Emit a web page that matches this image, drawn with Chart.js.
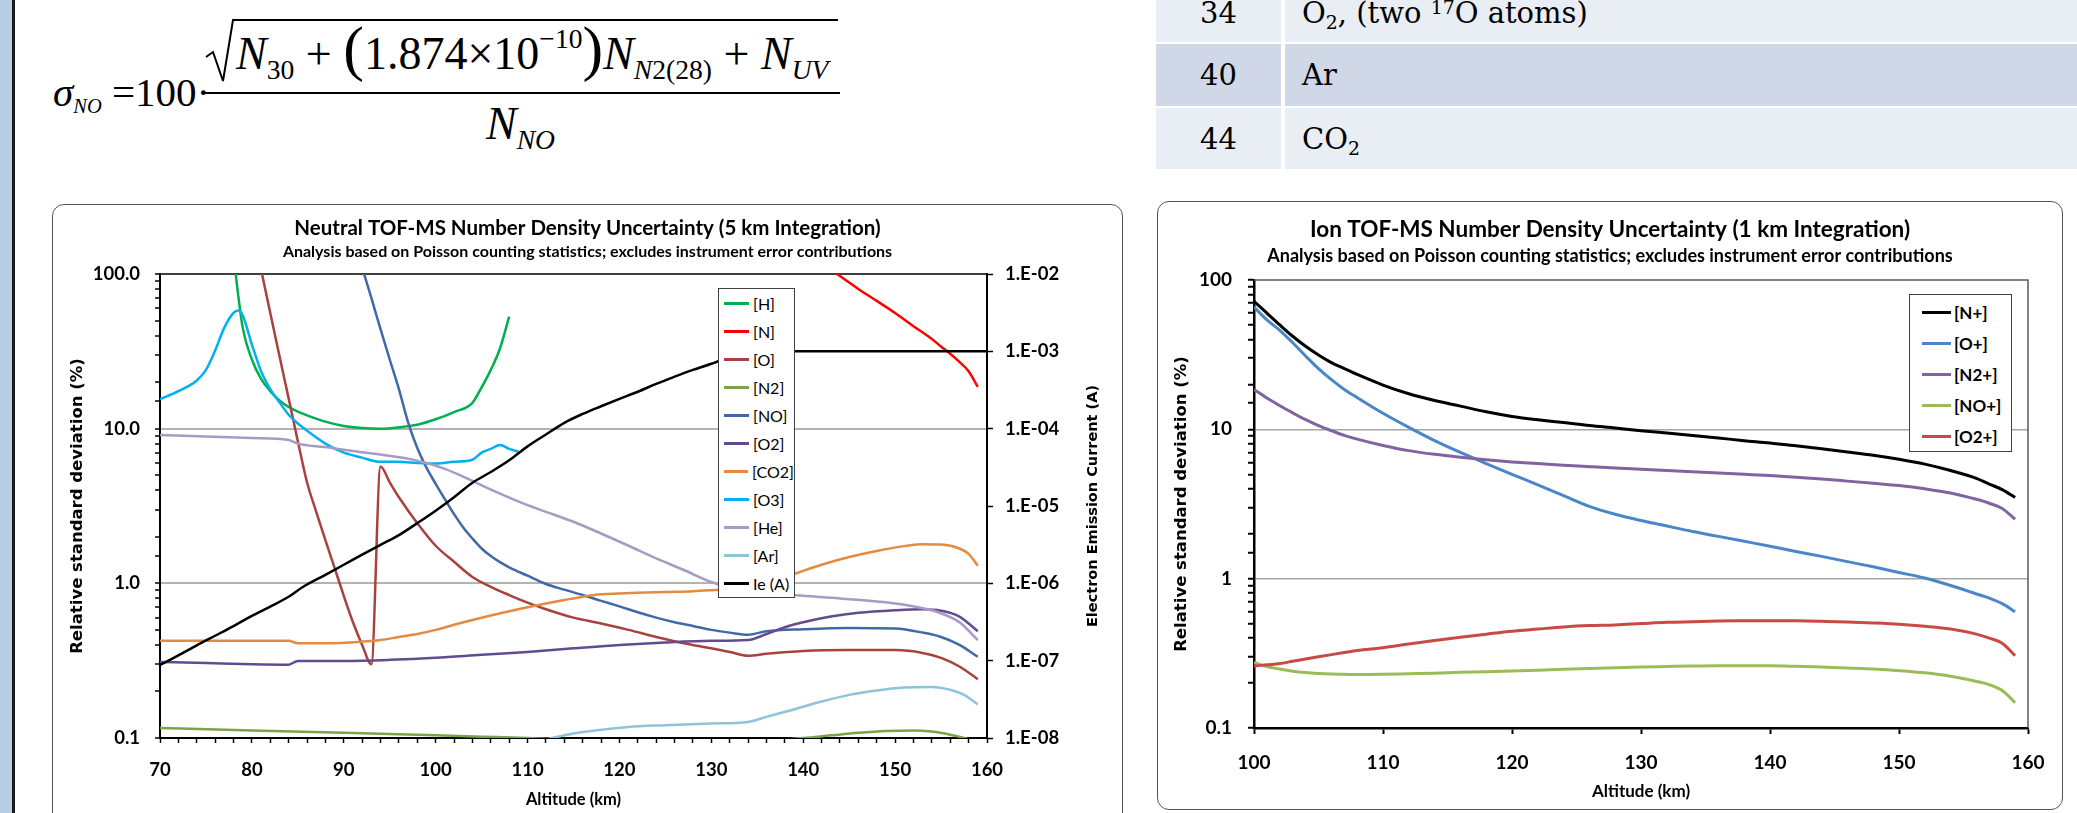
<!DOCTYPE html>
<html>
<head>
<meta charset="utf-8">
<script src="https://cdn.jsdelivr.net/npm/chart.js@4.4.1/dist/chart.umd.min.js"></script>
<style>
  html, body { margin: 0; padding: 0; background: #fff; }
  body { width: 2077px; height: 813px; position: relative; overflow: hidden; }
  .strip { position: absolute; left: 0; top: 0; width: 12px; height: 813px; background: #b9cde5; border-right: 3px solid #1a1a1a; }
  .frame { position: absolute; box-sizing: border-box; border: 1.5px solid #555; border-radius: 12px; background: #fff; }
  canvas { position: absolute; }

  .eq { position: absolute; font-family: 'Liberation Serif', serif; color: #000; white-space: nowrap; }
  .eq sub, .eq sup { font-size: 60%; line-height: 0; }
  .eq sub { vertical-align: -0.35em; }
  .eq sup { vertical-align: 0.75em; }
  .lhs { left: 53px; top: 72px; font-size: 41px; line-height: 41px; }
  .lhs sub { font-size: 50%; }
  .numtext { left: 236px; top: 31px; font-size: 46px; line-height: 46px; }
  .dentext { left: 486px; top: 101px; font-size: 46px; line-height: 46px; }
  .big { font-size: 62px; line-height: 0; }
  .eqlines { position: absolute; left: 0; top: 0; }

  .cell { position: absolute; display: flex; align-items: center; box-sizing: border-box; font-family: 'DejaVu Serif', serif; font-size: 29px; color: #000; white-space: nowrap; }
  .c1 { left: 1156px; width: 125px; justify-content: center; }
  .c2 { left: 1285px; width: 792px; padding-left: 17px; }
  .cell sub, .cell sup { font-size: 65%; line-height: 0; }
  .cell sub { vertical-align: -0.3em; }
  .cell sup { vertical-align: 0.5em; }

  .legend { position: absolute; box-sizing: border-box; background: #fff; border: 1.3px solid #404040; }
  .legend .item { display: flex; align-items: center; white-space: nowrap; }
  .legend .swatch { display: inline-block; height: 3px; }
  #neutralLegend { left: 718px; top: 288px; width: 77px; height: 310px; font-family: Lato, sans-serif; font-size: 16px; }
  #neutralLegend .item { height: 28.1px; }
  #neutralLegend .swatch { width: 25px; margin: 0 4px 0 5px; }
  #ionLegend { left: 1909px; top: 294px; width: 103px; height: 158px; padding-top: 2px; font-family: Lato, sans-serif; font-size: 17px; font-weight: bold; }
  #ionLegend .item { height: 31px; }
  #ionLegend .swatch { width: 29px; margin: 0 3px 0 12px; }
</style>
</head>
<body>
<div class="strip"></div>

<svg class="eqlines" width="900" height="170">
  <path d="M206,57 L213,52 L223,81 L233,20 L838,20" fill="none" stroke="#000" stroke-width="2"/>
  <path d="M203,93 L840,93" fill="none" stroke="#000" stroke-width="2"/>
</svg>
<div class="eq lhs"><i>σ</i><sub><i>NO</i></sub> =100·</div>
<div class="eq numtext"><i>N</i><sub>30</sub> + <span class="big">(</span>1.874×10<sup>−10</sup><span class="big">)</span><i>N</i><sub><i>N</i>2(28)</sub> + <i>N</i><sub><i>UV</i></sub></div>
<div class="eq dentext"><i>N</i><sub><i>NO</i></sub></div>

<div class="cell c1" style="top:-16px;height:58px;background:#e9edf4"><span>34</span></div>
<div class="cell c2" style="top:-16px;height:58px;background:#e9edf4"><span>O<sub>2</sub>, (two <sup>17</sup>O atoms)</span></div>
<div class="cell c1" style="top:44px;height:62px;background:#d0d8e8"><span>40</span></div>
<div class="cell c2" style="top:44px;height:62px;background:#d0d8e8"><span>Ar</span></div>
<div class="cell c1" style="top:108px;height:61px;background:#e9edf4"><span>44</span></div>
<div class="cell c2" style="top:108px;height:61px;background:#e9edf4"><span>CO<sub>2</sub></span></div>

<div class="frame" style="left:52px;top:204px;width:1071px;height:640px"></div>
<canvas id="neutral" width="1071" height="609" style="left:52px;top:204px"></canvas>
<div class="legend" id="neutralLegend"></div>

<div class="frame" style="left:1157px;top:201px;width:906px;height:609px"></div>
<canvas id="ion" width="906" height="609" style="left:1157px;top:201px"></canvas>
<div class="legend" id="ionLegend"></div>

<script>
// ---- neutral TOF-MS (left chart), altitude in km, uncertainty in % ----
const hAlt = [78, 79, 80, 81, 82, 83, 84, 85, 86, 88, 90, 92, 94, 96, 98, 100, 102, 104, 105, 106, 107, 108];
const hVal = [130, 45, 28, 21, 17.5, 15.2, 13.8, 12.9, 12.2, 11.1, 10.4, 10.1, 10.0, 10.2, 10.6, 11.5, 12.8, 14.7, 18.5, 24, 33, 53];

const nAlt = [143, 144, 146, 148, 150, 152, 154, 155, 156, 157, 158, 159];
const nVal = [106, 97, 80, 67, 56, 46, 38, 34, 30.5, 27, 23.5, 18.6];

const oAlt = [81, 82, 83, 84, 85, 86, 87, 88, 89, 90, 91, 92, 93, 94, 95, 96, 98, 100, 102, 104, 106, 108, 110, 112, 115, 118, 121, 124, 127, 130, 132, 134, 136, 140, 145, 150, 153, 155, 157, 159];
const oVal = [107, 56, 29.5, 15.7, 8.3, 4.5, 2.9, 1.9, 1.26, 0.83, 0.56, 0.40, 0.30, 5.7, 4.5, 3.6, 2.45, 1.75, 1.38, 1.1, 0.95, 0.84, 0.75, 0.68, 0.6, 0.55, 0.5, 0.45, 0.41, 0.38, 0.36, 0.34, 0.35, 0.365, 0.37, 0.37, 0.355, 0.33, 0.29, 0.24];

const n2Alt = [70, 80, 90, 100, 105, 110, 115, 120, 125, 130, 134, 137, 140, 143, 146, 149, 152, 154, 156, 157.5, 159];
const n2Val = [0.116, 0.112, 0.108, 0.104, 0.102, 0.1, 0.097, 0.095, 0.093, 0.093, 0.094, 0.097, 0.1, 0.104, 0.108, 0.111, 0.112, 0.110, 0.105, 0.1, 0.093];

const noAlt = [92, 93, 94, 95, 96, 97, 98, 99, 100, 101, 102, 103, 104, 105, 106, 107, 108, 110, 112, 114, 116, 118, 120, 122, 124, 126, 128, 130, 132, 134, 136, 140, 145, 150, 153, 155, 157, 159];
const noVal = [110, 70, 44, 28, 18, 11, 7.5, 5.6, 4.4, 3.5, 2.8, 2.3, 1.95, 1.68, 1.5, 1.37, 1.27, 1.12, 0.99, 0.91, 0.84, 0.77, 0.71, 0.65, 0.6, 0.56, 0.53, 0.5, 0.48, 0.465, 0.49, 0.505, 0.515, 0.51, 0.48, 0.45, 0.40, 0.335];

const o2Alt = [70, 75, 80, 84, 85, 90, 95, 100, 105, 110, 115, 120, 125, 130, 134, 136, 138, 140, 143, 146, 150, 153, 155, 157, 159];
const o2Val = [0.31, 0.305, 0.30, 0.298, 0.315, 0.315, 0.32, 0.33, 0.345, 0.36, 0.38, 0.40, 0.415, 0.425, 0.43, 0.47, 0.52, 0.56, 0.61, 0.645, 0.67, 0.68, 0.665, 0.61, 0.49];

const co2Alt = [70, 84, 85, 88, 92, 94, 96, 98, 100, 102, 104, 106, 108, 110, 112, 114, 116, 118, 120, 122, 125, 128, 131, 134, 136, 139, 142, 145, 148, 151, 153, 155, 157, 158, 159];
const co2Val = [0.425, 0.425, 0.41, 0.41, 0.42, 0.43, 0.45, 0.47, 0.5, 0.54, 0.58, 0.62, 0.66, 0.70, 0.74, 0.78, 0.82, 0.85, 0.86, 0.87, 0.88, 0.89, 0.91, 0.93, 1.0, 1.15, 1.32, 1.48, 1.62, 1.74, 1.79, 1.78, 1.68, 1.55, 1.3];

const o3Alt = [70, 72, 74, 75, 76, 77, 78, 78.5, 79, 80, 81, 82, 83, 84, 85, 86, 88, 90, 92, 94, 96, 98, 100, 102, 104, 105, 106, 107, 108, 109];
const o3Val = [15.5, 17.5, 20.5, 24, 32, 45, 56, 58, 54, 35, 23.5, 18, 14.8, 12.3, 10.8, 9.7, 8.0, 7.0, 6.5, 6.1, 6.1, 6.0, 5.95, 6.1, 6.3, 7.0, 7.4, 7.85, 7.4, 7.1];

const heAlt = [70, 80, 84, 85, 88, 90, 94, 97, 99, 101, 103, 105, 107, 110, 112, 115, 118, 121, 124, 127, 130, 133, 135, 140, 145, 150, 153, 155, 157, 159];
const heVal = [9.1, 8.7, 8.45, 8.0, 7.6, 7.3, 6.8, 6.4, 6.0, 5.5, 4.9, 4.3, 3.8, 3.2, 2.9, 2.5, 2.1, 1.75, 1.45, 1.22, 1.02, 0.9, 0.87, 0.83, 0.79, 0.74, 0.69, 0.64, 0.56, 0.43];

const arAlt = [111, 113, 115, 118, 121, 125, 130, 134, 136, 139, 142, 145, 148, 151, 154, 156, 157.5, 159];
const arVal = [0.094, 0.101, 0.107, 0.113, 0.118, 0.121, 0.124, 0.127, 0.137, 0.153, 0.172, 0.19, 0.203, 0.212, 0.214, 0.205, 0.19, 0.165];

// electron emission current (A), right axis
const ieAlt = [70, 72, 74, 76, 78, 80, 82, 84, 85.5, 88, 90, 92, 94, 96, 98, 100, 102, 104, 106, 108, 110, 112, 114, 116, 118, 120, 122, 124, 126, 128, 130, 132, 133.5, 160];
const ieVal = [8.8e-8, 1.17e-7, 1.58e-7, 2.1e-7, 2.8e-7, 3.8e-7, 5.0e-7, 6.7e-7, 8.9e-7, 1.29e-6, 1.74e-6, 2.35e-6, 3.15e-6, 4.2e-6, 6.0e-6, 8.7e-6, 1.3e-5, 2.0e-5, 2.75e-5, 3.9e-5, 5.9e-5, 8.4e-5, 1.19e-4, 1.55e-4, 1.95e-4, 2.43e-4, 3.0e-4, 3.8e-4, 4.7e-4, 5.75e-4, 6.9e-4, 8.5e-4, 1.0e-3, 1.0e-3];

const neutralYTicks = [0.1, 1, 10, 100];
const neutralYLabels = ['0.1', '1.0', '10.0', '100.0'];
const currentTicks = [1e-8, 1e-7, 1e-6, 1e-5, 1e-4, 1e-3, 1e-2];
const currentLabels = ['1.E-08', '1.E-07', '1.E-06', '1.E-05', '1.E-04', '1.E-03', '1.E-02'];

// ---- ion TOF-MS (right chart) ----
const ionAlt = [100, 101, 102, 103, 104, 105, 106, 107, 108, 110, 112, 114, 116, 118, 120, 122, 124, 126, 128, 130, 132, 134, 136, 138, 140, 142, 144, 146, 148, 150, 152, 154, 156, 157, 158, 159];
const nPlus = [72, 60, 50, 42, 36, 31.5, 28, 25.5, 23.3, 19.8, 17.3, 15.6, 14.3, 13.1, 12.2, 11.6, 11.1, 10.6, 10.2, 9.8, 9.45, 9.1, 8.75, 8.4, 8.1, 7.75, 7.4, 7.05, 6.7, 6.3, 5.85, 5.3, 4.7, 4.3, 3.95, 3.5];
const oPlus = [66, 54, 46, 38, 31, 25.5, 21.5, 18.5, 16.3, 12.8, 10.3, 8.4, 7.0, 5.9, 5.0, 4.25, 3.6, 3.05, 2.7, 2.45, 2.25, 2.07, 1.92, 1.78, 1.65, 1.52, 1.41, 1.3, 1.2, 1.1, 1.01, 0.9, 0.79, 0.74, 0.68, 0.6];
const n2Plus = [18.5, 16.2, 14.4, 12.9, 11.6, 10.6, 9.8, 9.1, 8.6, 7.8, 7.2, 6.8, 6.5, 6.25, 6.05, 5.9, 5.75, 5.62, 5.5, 5.4, 5.3, 5.2, 5.1, 5.0, 4.9, 4.78, 4.65, 4.5, 4.35, 4.2, 4.0, 3.75, 3.4, 3.2, 2.95, 2.5];
const noPlus = [0.275, 0.258, 0.248, 0.240, 0.235, 0.232, 0.230, 0.229, 0.228, 0.229, 0.231, 0.233, 0.236, 0.238, 0.241, 0.244, 0.247, 0.25, 0.253, 0.256, 0.258, 0.26, 0.261, 0.261, 0.261, 0.259, 0.256, 0.252, 0.248, 0.242, 0.234, 0.222, 0.205, 0.195, 0.178, 0.148];
const o2Plus = [0.26, 0.265, 0.27, 0.28, 0.29, 0.30, 0.31, 0.32, 0.33, 0.345, 0.365, 0.385, 0.405, 0.425, 0.445, 0.46, 0.475, 0.485, 0.49, 0.5, 0.51, 0.515, 0.52, 0.522, 0.523, 0.522, 0.518, 0.513, 0.505, 0.495, 0.48, 0.46, 0.425, 0.40, 0.37, 0.305];

const ionYTicks = [0.1, 1, 10, 100];
const ionYLabels = ['0.1', '1', '10', '100'];

Chart.defaults.font.family = 'Lato';
Chart.defaults.color = '#000';

const pts = (xs, ys) => xs.map((x, i) => ({ x: x, y: ys[i] }));
const labelFor = (v, ticks, labels) => {
	const i = ticks.findIndex(t => Math.abs(v - t) / t < 1e-6);
	return i < 0 ? '' : labels[i];
};
const isInnerDecade = (v, ticks) => {
	const i = ticks.findIndex(t => Math.abs(v - t) / t < 1e-6);
	return i > 0 && i < ticks.length - 1;
};

// line along top (and optionally right) edge of the plot area
const plotFrame = {
	id: 'plotFrame',
	beforeDatasetsDraw(chart, args, opts) {
		const { ctx, chartArea: a } = chart;
		ctx.save();
		ctx.strokeStyle = opts.color;
		ctx.lineWidth = opts.width;
		ctx.beginPath();
		ctx.moveTo(a.left, a.top);
		ctx.lineTo(a.right, a.top);
		if (opts.right) ctx.lineTo(a.right, a.bottom);
		ctx.stroke();
		ctx.restore();
	}
};

// right axis title reads bottom-to-top like the left one
const rightTitle = {
	id: 'rightTitle',
	afterDraw(chart, args, opts) {
		if (!opts.text) return;
		const s = chart.scales.y2;
		const ctx = chart.ctx;
		ctx.save();
		ctx.translate(s.right - opts.offset, (s.top + s.bottom) / 2);
		ctx.rotate(-Math.PI / 2);
		ctx.font = opts.font;
		ctx.fillStyle = '#000';
		ctx.textAlign = 'center';
		ctx.textBaseline = 'middle';
		ctx.fillText(opts.text, 0, 0);
		ctx.restore();
	}
};

function buildLegend(chart, el) {
	chart.data.datasets.forEach(ds => {
		const row = document.createElement('div');
		row.className = 'item';
		const sw = document.createElement('span');
		sw.className = 'swatch';
		sw.style.background = ds.borderColor;
		const tx = document.createElement('span');
		tx.textContent = ds.label;
		row.append(sw, tx);
		el.append(row);
	});
}

const line = (label, color, data, width, axis) => ({
	label: label,
	data: data,
	borderColor: color,
	backgroundColor: color,
	borderWidth: width,
	pointRadius: 0,
	cubicInterpolationMode: 'monotone',
	yAxisID: axis || 'y'
});

const neutralSets = [
	line('[H]', '#00b050', pts(hAlt, hVal), 2.5),
	line('[N]', '#ff0000', pts(nAlt, nVal), 2.5),
	line('[O]', '#a8423f', pts(oAlt, oVal), 2.5),
	line('[N2]', '#7ba445', pts(n2Alt, n2Val), 2.5),
	line('[NO]', '#4169a8', pts(noAlt, noVal), 2.5),
	line('[O2]', '#624c8f', pts(o2Alt, o2Val), 2.5),
	line('[CO2]', '#e38b3f', pts(co2Alt, co2Val), 2.5),
	line('[O3]', '#00b0f0', pts(o3Alt, o3Val), 2.5),
	line('[He]', '#a89ac4', pts(heAlt, heVal), 2.5),
	line('[Ar]', '#8ec4d9', pts(arAlt, arVal), 2.5),
	line('Ie (A)', '#000000', pts(ieAlt, ieVal), 2.5, 'y2')
];
neutralSets.forEach((d, i) => { d.order = -i; });

const neutral = new Chart(document.getElementById('neutral'), {
	type: 'line',
	data: { datasets: neutralSets },
	plugins: [plotFrame, rightTitle],
	options: {
		responsive: false,
		animation: false,
		layout: { padding: 0 },
		plugins: {
			legend: { display: false },
			tooltip: { enabled: false },
			title: {
				display: true,
				text: 'Neutral TOF-MS Number Density Uncertainty (5 km Integration)',
				font: { size: 20.5, weight: 'bold', lineHeight: 1.2 },
				padding: { top: 11.7, bottom: 0 }
			},
			subtitle: {
				display: true,
				text: 'Analysis based on Poisson counting statistics; excludes instrument error contributions',
				font: { size: 16, weight: 'bold', lineHeight: 1.2 },
				padding: { top: 2.1, bottom: 12.4 }
			},
			plotFrame: { color: '#000', width: 1.5, right: false },
			rightTitle: { text: 'Electron Emission Current (A)', font: 'bold 14.5px "DejaVu Sans"', offset: 30 }
		},
		scales: {
			x: {
				type: 'linear',
				min: 70,
				max: 160,
				afterFit: s => { s.height = 75; },
				ticks: {
					stepSize: 2,
					autoSkip: false,
					maxRotation: 0,
					padding: 16,
					font: { size: 18.5, weight: 'bold' },
					callback: v => (v % 10 === 0 ? String(v) : '')
				},
				grid: { drawOnChartArea: false, tickLength: 5, tickColor: '#000', tickWidth: 1.5 },
				border: { color: '#000', width: 2 },
				title: { display: true, text: 'Altitude (km)', font: { size: 16.5, weight: 'bold', lineHeight: 1.2 }, padding: { top: 0, bottom: 3 } }
			},
			y: {
				type: 'logarithmic',
				position: 'left',
				min: 0.1,
				max: 100,
				afterFit: s => { s.width = 108; },
				ticks: {
					autoSkip: false,
					padding: 15,
					font: { size: 18.5, weight: 'bold' },
					callback: v => labelFor(v, neutralYTicks, neutralYLabels)
				},
				grid: {
					color: c => (c.tick && isInnerDecade(c.tick.value, neutralYTicks) ? '#b3b3b3' : 'rgba(0,0,0,0)'),
					lineWidth: 2,
					tickLength: 5,
					tickColor: '#000',
					tickWidth: 1.5
				},
				border: { color: '#000', width: 2 },
				title: { display: true, text: 'Relative standard deviation (%)', font: { family: 'DejaVu Sans', size: 16.5, weight: 'bold', lineHeight: 1.2 }, padding: { top: 16.1, bottom: 0 } }
			},
			y2: {
				type: 'logarithmic',
				position: 'right',
				min: 1e-8,
				max: 1e-2,
				afterFit: s => { s.width = 136; },
				ticks: {
					autoSkip: false,
					padding: 12,
					font: { size: 18.5, weight: 'bold' },
					callback: v => labelFor(v, currentTicks, currentLabels)
				},
				grid: {
					drawOnChartArea: false,
					tickLength: 6,
					tickWidth: 1.5,
					tickColor: c => (c.tick && labelFor(c.tick.value, currentTicks, currentLabels) ? '#000' : 'rgba(0,0,0,0)')
				},
				border: { color: '#000', width: 2 }
			}
		}
	}
});
buildLegend(neutral, document.getElementById('neutralLegend'));

const ionSets = [
	line('[N+]', '#000000', pts(ionAlt, nPlus), 3),
	line('[O+]', '#4a86c8', pts(ionAlt, oPlus), 3),
	line('[N2+]', '#8064a2', pts(ionAlt, n2Plus), 3),
	line('[NO+]', '#9bbb59', pts(ionAlt, noPlus), 3),
	line('[O2+]', '#c94a44', pts(ionAlt, o2Plus), 3)
];
ionSets.forEach((d, i) => { d.order = -i; });

const ion = new Chart(document.getElementById('ion'), {
	type: 'line',
	data: { datasets: ionSets },
	plugins: [plotFrame],
	options: {
		responsive: false,
		animation: false,
		layout: { padding: 0 },
		plugins: {
			legend: { display: false },
			tooltip: { enabled: false },
			title: {
				display: true,
				text: 'Ion TOF-MS Number Density Uncertainty (1 km Integration)',
				font: { size: 22.5, weight: 'bold', lineHeight: 1.2 },
				padding: { top: 15.5, bottom: 0 }
			},
			subtitle: {
				display: true,
				text: 'Analysis based on Poisson counting statistics; excludes instrument error contributions',
				font: { size: 18, weight: 'bold', lineHeight: 1.2 },
				padding: { top: 1.7, bottom: 13.2 }
			},
			plotFrame: { color: '#595959', width: 1.5, right: true }
		},
		scales: {
			x: {
				type: 'linear',
				min: 100,
				max: 160,
				afterFit: s => { s.height = 82; },
				ticks: {
					stepSize: 10,
					autoSkip: false,
					maxRotation: 0,
					padding: 17.6,
					font: { size: 19, weight: 'bold' }
				},
				grid: { drawOnChartArea: false, tickLength: 6, tickColor: '#000', tickWidth: 2 },
				border: { color: '#000', width: 2.5 },
				title: { display: true, text: 'Altitude (km)', font: { size: 17, weight: 'bold', lineHeight: 1.2 }, padding: { top: 0, bottom: 7.8 } }
			},
			y: {
				type: 'logarithmic',
				min: 0.1,
				max: 100,
				afterFit: s => { s.width = 97; },
				ticks: {
					autoSkip: false,
					padding: 16,
					font: { size: 19, weight: 'bold' },
					callback: v => labelFor(v, ionYTicks, ionYLabels)
				},
				grid: {
					color: c => (c.tick && isInnerDecade(c.tick.value, ionYTicks) ? '#a6a6a6' : 'rgba(0,0,0,0)'),
					lineWidth: 1.5,
					tickLength: 6,
					tickColor: '#000',
					tickWidth: 2
				},
				border: { color: '#000', width: 2.5 },
				title: { display: true, text: 'Relative standard deviation (%)', font: { family: 'DejaVu Sans', size: 16.5, weight: 'bold', lineHeight: 1.2 }, padding: { top: 15, bottom: 0 } }
			},
			// empty right margin so the titles centre on the whole panel
			yPad: {
				type: 'linear',
				position: 'right',
				display: true,
				afterFit: s => { s.width = 35; },
				ticks: { display: false },
				grid: { display: false },
				border: { display: false }
			}
		}
	}
});
buildLegend(ion, document.getElementById('ionLegend'));
</script>
</body>
</html>
